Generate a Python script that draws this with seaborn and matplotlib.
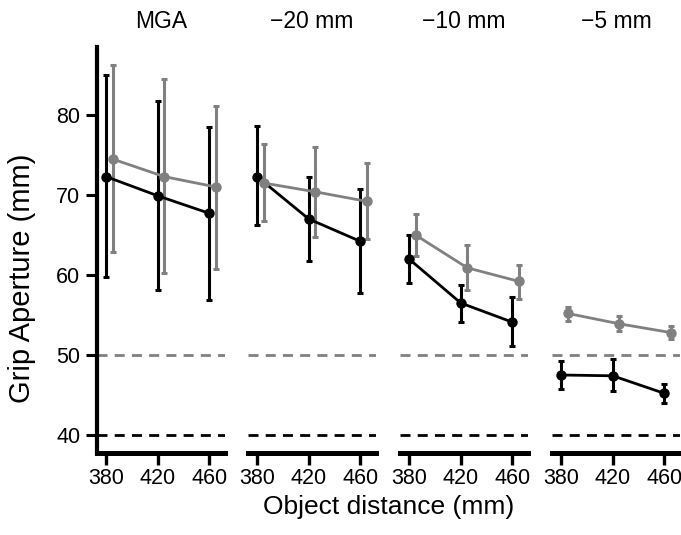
import matplotlib
matplotlib.use("Agg")
import matplotlib.pyplot as plt
import numpy as np
import pandas as pd
import seaborn as sns

# ---------------- data ----------------
panels = ["MGA", "\u221220 mm", "\u221210 mm", "\u22125 mm"]
distances = [380, 420, 460]
groups = ["black", "gray"]

black_mean = [[72.3, 69.9, 67.7], [72.3, 67.0, 64.2], [62.0, 56.5, 54.1], [47.5, 47.4, 45.2]]
black_low = [[59.7, 58.1, 56.9], [66.2, 61.8, 57.7], [59.0, 54.1, 51.1], [45.8, 45.5, 44.0]]
black_high = [[85.0, 81.8, 78.5], [78.6, 72.3, 70.7], [65.0, 58.8, 57.2], [49.3, 49.5, 46.4]]

gray_mean = [[74.5, 72.3, 71.0], [71.5, 70.4, 69.2], [65.0, 60.9, 59.2], [55.2, 53.9, 52.8]]
gray_low = [[62.9, 60.2, 60.8], [66.7, 64.7, 64.5], [62.4, 58.1, 57.0], [54.3, 53.0, 52.0]]
gray_high = [[86.2, 84.5, 81.1], [76.4, 76.0, 74.0], [67.6, 63.7, 61.3], [56.0, 54.9, 53.6]]

ref_lines = [50, 40]  # gray dashed, black dashed
yticks = [40, 50, 60, 70, 80]

# ---------------- table ----------------
rows = []
for p, name in enumerate(panels):
    for g, (m, lo, hi) in zip(groups, [(black_mean, black_low, black_high),
                                       (gray_mean, gray_low, gray_high)]):
        for k, d in enumerate(distances):
            rows.append(dict(panel=name, group=g, distance=d,
                             mean=m[p][k], low=lo[p][k], high=hi[p][k]))
df = pd.DataFrame(rows)

# ---------------- style ----------------
sns.set_theme(style="ticks")
plt.rcParams["font.family"] = ["Liberation Sans", "DejaVu Sans"]
for key in ["text.color", "axes.labelcolor", "xtick.color", "ytick.color",
            "axes.edgecolor"]:
    plt.rcParams[key] = "black"
colors = {"black": "#000000", "gray": "#808080"}
dodge = {"black": 0.0, "gray": 5.0}

W, H = 681, 535
fig = plt.figure(figsize=(W / 100, H / 100), dpi=100)
lefts = [97, 248, 400, 552]
ax_w, ax_bottom, ax_h = 128, 82, 406

for i, name in enumerate(panels):
    ax = fig.add_axes([lefts[i] / W, ax_bottom / H, ax_w / W, ax_h / H])
    sub = df[df.panel == name].copy()
    sub["xpos"] = sub["distance"] + sub["group"].map(dodge)

    ax.axhline(ref_lines[0], color="#808080", lw=2.0, ls=(0, (3.6, 2.6)), zorder=1)
    ax.axhline(ref_lines[1], color="#000000", lw=2.0, ls=(0, (3.6, 2.6)), zorder=1)

    for g in groups:
        s = sub[sub.group == g]
        ax.errorbar(s["xpos"], s["mean"],
                    yerr=[s["mean"] - s["low"], s["high"] - s["mean"]],
                    fmt="none", ecolor=colors[g], elinewidth=2.2,
                    capsize=2.5, capthick=2.2, zorder=3 if g == "black" else 4)
    sns.lineplot(data=sub, x="xpos", y="mean", hue="group", palette=colors,
                 hue_order=groups, marker="o", markersize=7.5, markeredgewidth=0,
                 linewidth=2.0, legend=False, errorbar=None, ax=ax, zorder=5)

    ax.set_xlim(373, 472)
    ax.set_ylim(37.75, 88.5)
    ax.set_xticks(distances)
    ax.set_xticklabels([str(d) for d in distances], fontsize=15.5)
    ax.set_xlabel("")
    ax.set_ylabel("")
    ax.set_title(name, fontsize=16.5, pad=14)
    ax.tick_params(axis="x", length=8.5, width=2.4, pad=2)
    for sp in ["top", "right"]:
        ax.spines[sp].set_visible(False)
    ax.spines["bottom"].set_linewidth(3.6)
    ax.patch.set_alpha(0)
    if i == 0:
        ax.spines["left"].set_linewidth(3.0)
        ax.set_yticks(yticks)
        ax.set_yticklabels([str(v) for v in yticks], fontsize=15.5)
        ax.tick_params(axis="y", length=8, width=2.2, pad=4)
        ax.set_ylabel("Grip Aperture (mm)", fontsize=21)
        ax.yaxis.set_label_coords(-0.48, 0.43)
    else:
        ax.spines["left"].set_visible(False)
        ax.set_yticks([])

fig.text(388.5 / W, 1 - 507 / H, "Object distance (mm)", ha="center", va="center",
         fontsize=19)

fig.savefig("out.png", dpi=100)
